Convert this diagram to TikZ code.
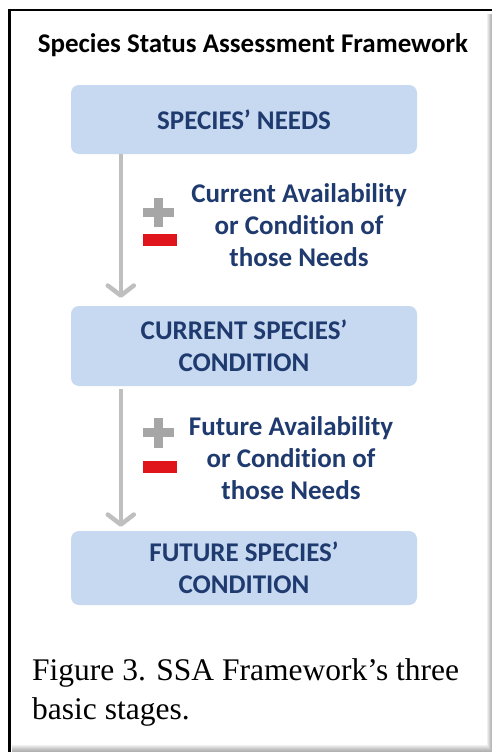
\documentclass[tikz,border=0pt]{standalone}
\usepackage{fontspec}
\setmainfont{Liberation Serif}
\newfontfamily\carl[Ligatures=NoCommon]{Carlito}
\usetikzlibrary{arrows.meta,calc}
\definecolor{navy}{HTML}{1F3A6E}
\definecolor{boxfill}{HTML}{C6D9F0}
\definecolor{arrgray}{HTML}{BFBFBF}
\definecolor{plusgray}{HTML}{A6A6A6}
\definecolor{minusred}{HTML}{E0151C}
\tikzset{
  stagebox/.style={rectangle, rounded corners=8, fill=boxfill, minimum width=346, text=navy, align=center, font=\carl\bfseries\fontsize{27}{32}\selectfont},
  flowarrow/.style={draw=arrgray, line width=4.5, -{Straight Barb[length=10,width=26,line cap=round,line join=round]}},
  sidelabel/.style={text=navy, align=center, font=\carl\bfseries\fontsize{27}{32}\selectfont},
}
\begin{document}
\begin{tikzpicture}[x=1pt,y=-1pt]
\useasboundingbox (0,0) rectangle (492,752);
\fill[white] (0,0) rectangle (492,752);
% frame shading right and bottom
\foreach \i/\c in {0/6,1/12,2/18,3/24,4/28} {
  \fill[black!\c!white] ({487+\i},14) rectangle ({488+\i},752);
}
\foreach \i/\c in {0/6,1/10,2/15,3/20,4/24,5/28,6/30} {
  \fill[black!\c!white] (12,{745+\i}) rectangle ({487+\i},{746+\i});
}
\draw[black, line width=2.5] (492,10) -- (9.5,10) -- (9.5,752);

\node[font=\carl\bfseries\fontsize{27}{30}\selectfont] (title) at (253,45) {Species Status Assessment Framework};

\node[stagebox, minimum height=69] (b1) at (244,119.5) {SPECIES’ NEEDS};
\node[stagebox, minimum height=80] (b2) at (244,346) {CURRENT SPECIES’\\CONDITION};
\node[stagebox, minimum height=74] (b3) at (244,568) {FUTURE SPECIES’\\CONDITION};

\draw[flowarrow, shorten >=8] ($(b1.south west)+(50,0)$) -- ($(b2.north west)+(50,0)$);
\draw[flowarrow, shorten <=3, shorten >=4] ($(b2.south west)+(50,0)$) -- ($(b3.north west)+(50,0)$);

% plus / minus 1
\fill[plusgray] (143,208) rectangle (174,217);
\fill[plusgray] (154,198) rectangle (163,227);
\fill[minusred] (143,234) rectangle (177,246);
\node[sidelabel] (l1) at (299,225) {Current Availability\\or Condition of\\those Needs};

% plus / minus 2
\fill[plusgray] (143,428) rectangle (174,437);
\fill[plusgray] (154,418) rectangle (163,448);
\fill[minusred] (143,461) rectangle (177,473);
\node[sidelabel] (l2) at (291,458) {Future Availability\\or Condition of\\those Needs};

\node[anchor=base west, align=left, inner sep=0, font=\fontsize{31.5}{39}\selectfont] (cap) at (32,719) {Figure 3. SSA Framework’s three\\basic stages.};
\end{tikzpicture}
\end{document}
